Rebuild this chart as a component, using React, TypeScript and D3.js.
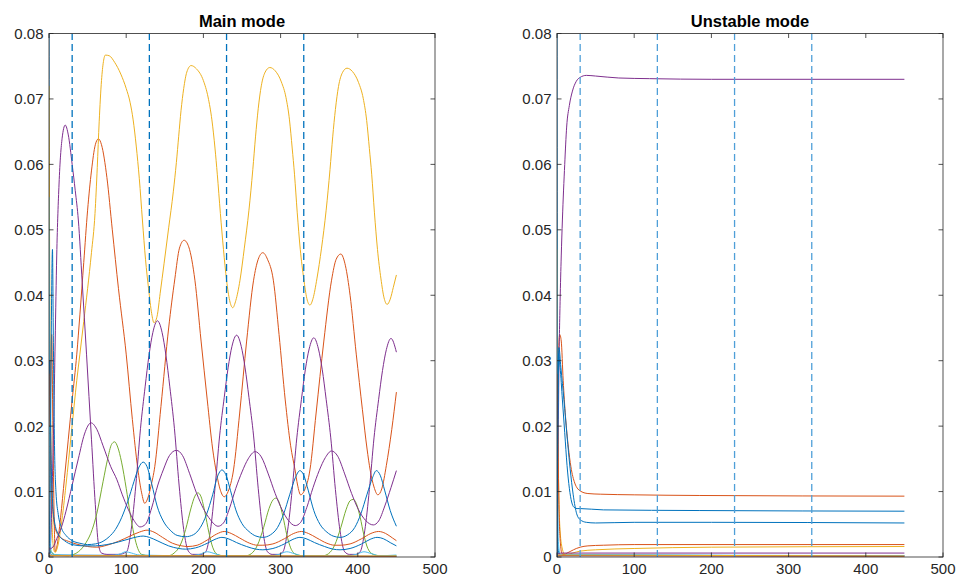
import React from 'react';
import * as d3 from 'd3';

type P = [number, number];

const X_TICKS = [0, 100, 200, 300, 400, 500];
const Y_TICKS = [0, 0.01, 0.02, 0.03, 0.04, 0.05, 0.06, 0.07, 0.08];
const Y_TICK_LABELS = ['0', '0.01', '0.02', '0.03', '0.04', '0.05', '0.06', '0.07', '0.08'];
const DASH_T = [30, 130, 230, 330];
const TITLES = ['Main mode', 'Unstable mode'];

const C_BLUE = '#0072BD', C_ORANGE = '#D95319', C_YELLOW = '#EDB120', C_PURPLE = '#7E2F8E',
  C_GREEN = '#77AC30', C_LBLUE = '#4DBEEE', C_DRED = '#A2142F';

// ---------------- Main mode (left) ----------------
const mainBlue0: P[] = [[0, 0.08], [0.4, 0.03], [1, 0.002], [3, 0.0003], [450, 0.0001]];
const mainOrange: P[] = [[0, 0.002], [1.5, 0.02], [3.5, 0.034], [5, 0.02], [7, 0.004], [8, 0.0008], [10, 0.0015], [15, 0.006], [20, 0.012], [25, 0.018], [30, 0.024], [36, 0.031], [40, 0.037], [45, 0.045], [50, 0.053], [55, 0.059], [60, 0.063], [64, 0.0639], [68, 0.063], [75, 0.058], [82, 0.05], [90, 0.041], [100, 0.031], [108, 0.021], [115, 0.0135], [120, 0.0098], [124, 0.0082], [128, 0.009], [132, 0.0108], [137, 0.0138], [145, 0.023], [155, 0.035], [163, 0.0425], [169, 0.0472], [175, 0.0484], [181, 0.0474], [189, 0.0423], [197, 0.033], [205, 0.024], [212, 0.0165], [217, 0.0128], [222, 0.0102], [227, 0.0092], [232, 0.01], [239, 0.0133], [247, 0.022], [256, 0.033], [265, 0.0423], [271, 0.0455], [277, 0.0465], [283, 0.0455], [290.6, 0.0423], [298, 0.034], [306, 0.024], [313, 0.017], [318.7, 0.0133], [322, 0.011], [326, 0.0095], [331, 0.0102], [338, 0.0133], [346, 0.022], [356, 0.033], [366, 0.0423], [372, 0.0455], [378, 0.0463], [384, 0.0445], [390, 0.04], [398, 0.031], [406, 0.0225], [412, 0.0165], [416, 0.0133], [421, 0.0107], [426, 0.0095], [431, 0.0104], [437, 0.014], [444, 0.0195], [450, 0.0252]];
const mainYellow: P[] = [[0, 0.072], [0.7, 0.05], [1.5, 0.03], [2.5, 0.015], [4, 0.005], [6, 0.0012], [8, 0.0007], [11, 0.0015], [16, 0.005], [22, 0.011], [29, 0.019], [36, 0.027], [40, 0.031], [45, 0.036], [50, 0.041], [55, 0.0465], [59.6, 0.0525], [62.5, 0.0595], [65, 0.0665], [68, 0.0728], [70.5, 0.0757], [73, 0.0767], [78, 0.0766], [85, 0.0756], [93, 0.0738], [100, 0.0716], [105, 0.0695], [109, 0.0668], [113, 0.0628], [117, 0.0578], [121, 0.0515], [125, 0.0455], [129, 0.041], [133, 0.0372], [136, 0.0358], [140, 0.0368], [144, 0.0403], [149, 0.0448], [155, 0.0503], [161, 0.0558], [165, 0.0603], [168, 0.0643], [171, 0.0682], [174.5, 0.0716], [178.5, 0.0741], [184, 0.0751], [191, 0.0746], [200, 0.0728], [206, 0.0703], [211, 0.0668], [215, 0.0625], [218, 0.0585], [222, 0.0525], [226, 0.047], [230, 0.0423], [234, 0.0392], [238, 0.0381], [242, 0.0392], [247.4, 0.0423], [253, 0.0472], [259, 0.053], [264, 0.0592], [267.5, 0.0642], [271, 0.0685], [275, 0.072], [280, 0.0741], [286, 0.0748], [293, 0.0743], [301, 0.0726], [307, 0.0702], [311.5, 0.0668], [315, 0.0625], [318, 0.0585], [321.5, 0.0527], [325.5, 0.047], [330, 0.0425], [334, 0.0395], [338, 0.0385], [342, 0.0395], [347, 0.0425], [353, 0.0472], [359, 0.053], [364, 0.0592], [367.5, 0.0642], [371, 0.0684], [375, 0.0719], [380, 0.074], [386, 0.0747], [393, 0.0742], [401, 0.0725], [407, 0.0701], [411.5, 0.0667], [415, 0.0624], [418, 0.0585], [421.5, 0.0527], [425.5, 0.047], [430, 0.0425], [434, 0.0396], [438, 0.0386], [442, 0.0394], [446, 0.0412], [450, 0.0431]];
const mainPurple: P[] = [[0, 0.0003], [2, 0.002], [4, 0.01], [6, 0.02], [8, 0.033], [10, 0.046], [13, 0.057], [17, 0.064], [21, 0.066], [25, 0.0645], [30, 0.06], [34, 0.056], [38, 0.0515], [43, 0.042], [48.6, 0.031], [55, 0.018], [60, 0.008], [64, 0.002], [68, 0.0006], [75, 0.0004], [90, 0.0004], [100.5, 0.0008], [106.5, 0.0042], [112.5, 0.011], [118.5, 0.0196], [124.5, 0.026], [129.5, 0.0308], [134.5, 0.0343], [140.5, 0.0361], [146.5, 0.0343], [151.5, 0.0308], [156.5, 0.026], [162.5, 0.0196], [168.5, 0.011], [174.5, 0.0042], [180.5, 0.0009], [186, 0.0004], [197, 0.0004], [203, 0.0008], [209, 0.004], [215, 0.0105], [221, 0.0185], [227, 0.0244], [232, 0.0289], [237, 0.0322], [243, 0.0339], [249, 0.0322], [254, 0.0289], [259, 0.0244], [265, 0.0185], [271, 0.0105], [277, 0.004], [283, 0.0008], [289, 0.0004], [297, 0.0004], [303, 0.0008], [309, 0.004], [315, 0.0103], [321, 0.0182], [327, 0.0241], [332, 0.0286], [337, 0.0318], [343, 0.0335], [349, 0.0318], [354, 0.0286], [359, 0.0241], [365, 0.0182], [371, 0.0103], [377, 0.004], [383, 0.0008], [389, 0.0004], [397, 0.0004], [403, 0.0008], [409, 0.004], [415, 0.0103], [421, 0.0182], [427, 0.0241], [432, 0.0285], [437, 0.0317], [443, 0.0334], [450, 0.0313]];
const mainGreen: P[] = [[0, 0.0015], [3, 0.0008], [8, 0.0003], [25, 0.0002], [32, 0.0004], [40, 0.001], [48, 0.0022], [56, 0.0042], [62, 0.0067], [70, 0.0115], [76, 0.015], [81, 0.0172], [85, 0.0176], [89, 0.0168], [94, 0.0145], [100, 0.0105], [105, 0.0067], [110, 0.0035], [115, 0.0013], [120, 0.0004], [130, 0.0002], [155, 0.0002], [162, 0.0006], [170, 0.0018], [177, 0.0042], [184, 0.0075], [189, 0.0093], [193, 0.0098], [197, 0.0092], [202, 0.0068], [207, 0.0038], [212, 0.0015], [218, 0.0004], [225, 0.0002], [255, 0.0002], [262, 0.0005], [270, 0.0018], [278, 0.0045], [285, 0.0074], [290, 0.0087], [294, 0.009], [298, 0.0084], [303, 0.0062], [308, 0.0034], [313, 0.0014], [320, 0.0004], [328, 0.0002], [355, 0.0002], [362, 0.0005], [370, 0.0018], [378, 0.0045], [385, 0.0073], [390, 0.0086], [394, 0.0088], [398, 0.0082], [403, 0.0061], [408, 0.0033], [413, 0.0013], [420, 0.0004], [428, 0.0002], [450, 0.0002]];
const mainLightBlue: P[] = [[0, 0.055], [0.5, 0.03], [1.2, 0.005], [3, 0.0008], [10, 0.0003], [60, 0.0002], [85, 0.0003], [93, 0.0005], [99, 0.0008], [107, 0.0006], [117, 0.0003], [180, 0.0002], [195, 0.0004], [205, 0.0008], [215, 0.0005], [225, 0.0002], [285, 0.0002], [298, 0.0004], [308, 0.0008], [318, 0.0005], [328, 0.0002], [385, 0.0002], [398, 0.0004], [408, 0.0008], [418, 0.0005], [428, 0.0002], [450, 0.0003]];
const mainDarkRed: P[] = [[0, 0.0002], [450, 0.0001]];
const mainBlueE: P[] = [[0, 0.0], [1.5, 0.01], [3, 0.035], [4.5, 0.047], [5.5, 0.035], [7, 0.018], [9, 0.01], [12, 0.0065], [16, 0.0045], [22, 0.0033], [30, 0.0025], [40, 0.0021], [50, 0.0019], [60, 0.002], [70, 0.0024], [78, 0.0031], [86, 0.0042], [94, 0.006], [102, 0.0085], [110, 0.0115], [116, 0.0136], [122, 0.0145], [127, 0.0138], [133, 0.0112], [140, 0.0078], [148, 0.0055], [157, 0.0041], [166, 0.0033], [177, 0.0031], [187, 0.0034], [196, 0.0045], [204, 0.0065], [212, 0.0095], [218, 0.0122], [224, 0.0133], [229, 0.0126], [235, 0.0102], [242, 0.0072], [250, 0.0051], [259, 0.0039], [268, 0.0032], [277, 0.003], [287, 0.0034], [296, 0.0045], [304, 0.0066], [312, 0.0096], [319, 0.0121], [325, 0.0132], [330, 0.0125], [336, 0.0101], [343, 0.0071], [351, 0.005], [360, 0.0038], [368, 0.0032], [377, 0.003], [387, 0.0034], [396, 0.0045], [404, 0.0066], [412, 0.0096], [419, 0.0121], [424, 0.0132], [429, 0.0125], [435, 0.0101], [442, 0.0071], [450, 0.0047]];
const mainOrangeSmall: P[] = [[0, 0.02], [1, 0.03], [2.5, 0.015], [5, 0.007], [9, 0.004], [15, 0.003], [25, 0.0024], [35, 0.002], [50, 0.0016], [62, 0.0015], [75, 0.0018], [90, 0.0024], [105, 0.0032], [117, 0.0038], [127, 0.0041], [136, 0.0038], [147, 0.003], [160, 0.0021], [172, 0.0017], [180, 0.0016], [192, 0.0018], [205, 0.0026], [217, 0.0035], [227, 0.0039], [236, 0.0036], [247, 0.0029], [260, 0.0021], [270, 0.0018], [277, 0.0018], [290, 0.002], [305, 0.0028], [317, 0.0036], [327, 0.0039], [336, 0.0036], [347, 0.0029], [360, 0.0021], [370, 0.0018], [377, 0.0018], [390, 0.002], [405, 0.0028], [417, 0.0036], [427, 0.0039], [436, 0.0036], [445, 0.0029], [450, 0.0025]];
const mainYellowFlat: P[] = [[0, 0.0004], [5, 0.0002], [450, 0.00015]];
const mainPurpleMed: P[] = [[0, 0.0012], [5, 0.0015], [10, 0.0028], [16, 0.0045], [22, 0.007], [30, 0.011], [38, 0.015], [46, 0.0188], [54.4, 0.0205], [62, 0.0195], [70, 0.017], [80, 0.0138], [88, 0.0118], [95, 0.0095], [103, 0.0072], [110, 0.0056], [118, 0.0046], [125, 0.005], [133, 0.0075], [141, 0.011], [148, 0.0133], [156, 0.0155], [165, 0.0163], [173, 0.0155], [182, 0.0128], [191, 0.0098], [200, 0.0074], [209, 0.0057], [219, 0.0047], [226, 0.0052], [234, 0.0075], [242, 0.0105], [250, 0.013], [258, 0.015], [267, 0.0161], [275, 0.0153], [284, 0.0127], [293, 0.0097], [302, 0.0072], [310, 0.0056], [319, 0.0048], [326, 0.0053], [334, 0.0076], [342, 0.0106], [350, 0.0132], [358, 0.0152], [366, 0.0162], [374, 0.0154], [383, 0.0127], [392, 0.0097], [401, 0.0072], [410, 0.0056], [420, 0.0049], [427, 0.0055], [435, 0.0078], [443, 0.0106], [450, 0.0132]];
const mainBlueF: P[] = [[0, 0.028], [1, 0.03], [2, 0.02], [4, 0.01], [7, 0.0055], [12, 0.0035], [20, 0.0025], [30, 0.0019], [45, 0.0017], [60, 0.0017], [75, 0.0019], [90, 0.0023], [105, 0.0028], [115, 0.0031], [122, 0.0032], [130, 0.003], [140, 0.0025], [155, 0.0017], [168, 0.0013], [177, 0.0012], [190, 0.0014], [205, 0.0021], [215, 0.0027], [224, 0.003], [232, 0.0028], [243, 0.0022], [256, 0.0016], [268, 0.0012], [277, 0.0011], [290, 0.0013], [305, 0.002], [316, 0.0027], [325, 0.003], [333, 0.0028], [344, 0.0022], [357, 0.0016], [368, 0.0012], [377, 0.0011], [390, 0.0013], [405, 0.002], [416, 0.0027], [425, 0.003], [433, 0.0028], [442, 0.0022], [450, 0.0017]];

// ---------------- Unstable mode (right) ----------------
const unstBlue0: P[] = [[0, 0.08], [0.4, 0.03], [1, 0.002], [3, 0.0003], [450, 0.0002]];
const unstOrange: P[] = [[0, 0.0], [1, 0.02], [2, 0.031], [3.5, 0.034], [5.5, 0.033], [8, 0.027], [11, 0.0215], [14.7, 0.0168], [18, 0.0138], [23, 0.0113], [27, 0.0104], [30, 0.0101], [40, 0.0097], [56, 0.0096], [100, 0.0095], [185, 0.0094], [450, 0.0093]];
const unstYellow: P[] = [[0, 0.047], [0.8, 0.03], [2, 0.012], [4, 0.004], [7, 0.0012], [10, 0.0004], [14, 0.0004], [20, 0.0006], [30, 0.0009], [50, 0.0011], [100, 0.0013], [200, 0.0015], [450, 0.0016]];
const unstPurple: P[] = [[0, 0.0], [1, 0.01], [2.5, 0.029], [4, 0.039], [5.5, 0.046], [7, 0.0515], [10, 0.06], [12.5, 0.0657], [16, 0.069], [20, 0.0712], [25, 0.0727], [30, 0.0733], [38, 0.0736], [50, 0.0735], [80, 0.0732], [120, 0.0731], [200, 0.073], [450, 0.073]];
const unstLightBlue: P[] = [[0, 0.05], [0.6, 0.03], [1.5, 0.003], [4, 0.0004], [450, 0.0002]];
const unstDarkRed: P[] = [[0, 0.0002], [450, 0.0001]];
const unstBlue1: P[] = [[0, 0.0], [1, 0.02], [2, 0.031], [4, 0.029], [7, 0.024], [10, 0.019], [13, 0.014], [16, 0.0105], [19, 0.0084], [22, 0.0076], [26, 0.0074], [30, 0.0074], [60, 0.0072], [185, 0.0071], [450, 0.007]];
const unstOrangeSmall: P[] = [[0, 0.028], [1, 0.02], [2.5, 0.008], [4.5, 0.002], [6.5, 0.0005], [9, 0.0004], [13, 0.0006], [18, 0.0009], [25, 0.0013], [30, 0.0015], [40, 0.0017], [60, 0.0018], [100, 0.0019], [450, 0.0019]];
const unstYellowFlat: P[] = [[0, 0.0003], [450, 0.00015]];
const unstPurpleSmall: P[] = [[0, 0.0004], [5, 0.0006], [450, 0.0006]];
const unstBlue2: P[] = [[0, 0.0], [1, 0.02], [2.5, 0.032], [5, 0.029], [9, 0.024], [13, 0.0185], [17, 0.0135], [21, 0.0095], [25.5, 0.0066], [30, 0.0057], [38, 0.0053], [50, 0.0052], [100, 0.0053], [200, 0.0053], [450, 0.0052]];

interface Series { data: P[]; color: string; }

const mainSeries: Series[] = [
  { data: mainBlue0, color: C_BLUE },
  { data: mainOrange, color: C_ORANGE },
  { data: mainYellow, color: C_YELLOW },
  { data: mainPurple, color: C_PURPLE },
  { data: mainGreen, color: C_GREEN },
  { data: mainLightBlue, color: C_LBLUE },
  { data: mainDarkRed, color: C_DRED },
  { data: mainBlueE, color: C_BLUE },
  { data: mainOrangeSmall, color: C_ORANGE },
  { data: mainYellowFlat, color: C_YELLOW },
  { data: mainPurpleMed, color: C_PURPLE },
  { data: mainBlueF, color: C_BLUE },
];

const unstSeries: Series[] = [
  { data: unstBlue0, color: C_BLUE },
  { data: unstOrange, color: C_ORANGE },
  { data: unstYellow, color: C_YELLOW },
  { data: unstPurple, color: C_PURPLE },
  { data: unstLightBlue, color: C_LBLUE },
  { data: unstDarkRed, color: C_DRED },
  { data: unstBlue1, color: C_BLUE },
  { data: unstOrangeSmall, color: C_ORANGE },
  { data: unstYellowFlat, color: C_YELLOW },
  { data: unstPurpleSmall, color: C_PURPLE },
  { data: unstBlue2, color: C_BLUE },
];

const FONT = '"Liberation Sans", Arial, Helvetica, sans-serif';
const AX = '#262626';
const TOP = 33.5, BOTTOM = 557;

function Panel({ id, x0, x1, title, series, dashColor }: { id: string; x0: number; x1: number; title: string; series: Series[]; dashColor: string }) {
  const x = d3.scaleLinear().domain([0, 500]).range([x0, x1]);
  const y = d3.scaleLinear().domain([0, 0.08]).range([BOTTOM, TOP]);
  const line = d3.line<P>().x(d => x(d[0])).y(d => y(d[1])).curve(d3.curveMonotoneX);
  const tl = 4.5;
  return (
    <g>
      <defs>
        <clipPath id={id}>
          <rect x={x0} y={TOP} width={x1 - x0} height={BOTTOM - TOP} />
        </clipPath>
      </defs>
      <g clipPath={`url(#${id})`}>
        {series.map((s, i) => (
          <path key={i} d={line(s.data) || ''} fill="none" stroke={s.color} strokeWidth={1} strokeLinejoin="round" />
        ))}
        {DASH_T.map(t => (
          <line key={t} x1={x(t)} x2={x(t)} y1={BOTTOM} y2={TOP} stroke={dashColor} strokeWidth={1.3} strokeDasharray="7,4" />
        ))}
      </g>
      <rect x={x0} y={TOP} width={x1 - x0} height={BOTTOM - TOP} fill="none" stroke={AX} strokeWidth={0.8} />
      {X_TICKS.map(t => (
        <g key={t}>
          <line x1={x(t)} x2={x(t)} y1={BOTTOM} y2={BOTTOM - tl} stroke={AX} strokeWidth={0.8} />
          <line x1={x(t)} x2={x(t)} y1={TOP} y2={TOP + tl} stroke={AX} strokeWidth={0.8} />
          <text x={x(t)} y={574} textAnchor="middle" fontSize={15} fill={AX} fontFamily={FONT}>{t}</text>
        </g>
      ))}
      {Y_TICKS.map((v, i) => (
        <g key={i}>
          <line x1={x0} x2={x0 + tl} y1={y(v)} y2={y(v)} stroke={AX} strokeWidth={0.8} />
          <line x1={x1} x2={x1 - tl} y1={y(v)} y2={y(v)} stroke={AX} strokeWidth={0.8} />
          <text x={x0 - 5.5} y={y(v)} dy="0.36em" textAnchor="end" fontSize={15} fill={AX} fontFamily={FONT}>{Y_TICK_LABELS[i]}</text>
        </g>
      ))}
      <text x={(x0 + x1) / 2} y={26.5} textAnchor="middle" fontSize={16.5} fontWeight="bold" fill="#000" fontFamily={FONT}>{title}</text>
    </g>
  );
}

export default function App() {
  return (
    <svg width={957} height={582} style={{ position: 'absolute', left: 0, top: 0, background: '#fff' }}>
      <rect x={0} y={0} width={957} height={582} fill="#fff" />
      <Panel id="clipMain" x0={49} x1={435} title={TITLES[0]} series={mainSeries} dashColor="#0072BD" />
      <Panel id="clipUnst" x0={557} x1={943} title={TITLES[1]} series={unstSeries} dashColor="#4F9FD8" />
    </svg>
  );
}
